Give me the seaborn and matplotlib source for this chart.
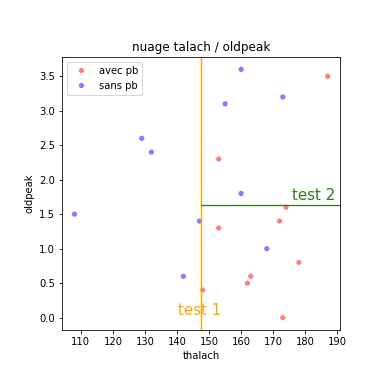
import matplotlib
matplotlib.use("Agg")
import matplotlib.pyplot as plt
import seaborn as sns
import pandas as pd

avec_thalach = [148, 153, 153, 162, 163, 172, 174, 173, 178, 187]
avec_oldpeak = [0.4, 2.3, 1.3, 0.5, 0.6, 1.4, 1.6, 0.0, 0.8, 3.5]
sans_thalach = [108, 129, 132, 142, 147, 155, 160, 160, 168, 173]
sans_oldpeak = [1.5, 2.6, 2.4, 0.6, 1.4, 3.1, 3.6, 1.8, 1.0, 3.2]
labels = ["avec pb", "sans pb"]
test1_x = 147.5
test2_y = 1.63

df = pd.DataFrame({
    "thalach": avec_thalach + sans_thalach,
    "oldpeak": avec_oldpeak + sans_oldpeak,
    "groupe": [labels[0]] * len(avec_thalach) + [labels[1]] * len(sans_thalach),
})

fig = plt.figure(figsize=(379 / 72, 370 / 72), dpi=72)
ax = fig.add_axes([0.163, 0.108, 0.735, 0.738])
sns.scatterplot(data=df, x="thalach", y="oldpeak", hue="groupe",
                palette={labels[0]: "red", labels[1]: "blue"},
                alpha=0.5, s=30, ax=ax)
ax.axvline(test1_x, color="orange", lw=1.4)
ax.axhline(test2_y, xmin=0.5, color="#2e7a1a", lw=1.3)
ax.text(147, 0.0, "test 1", color="orange", fontsize=15, ha="center", va="bottom")
ax.text(189.5, 1.66, "test 2", color="#2e7a1a", fontsize=15, ha="right", va="bottom")
ax.set_title("nuage talach / oldpeak")
ax.legend(loc="upper left", title=None)
fig.savefig("out.png", dpi=72)
